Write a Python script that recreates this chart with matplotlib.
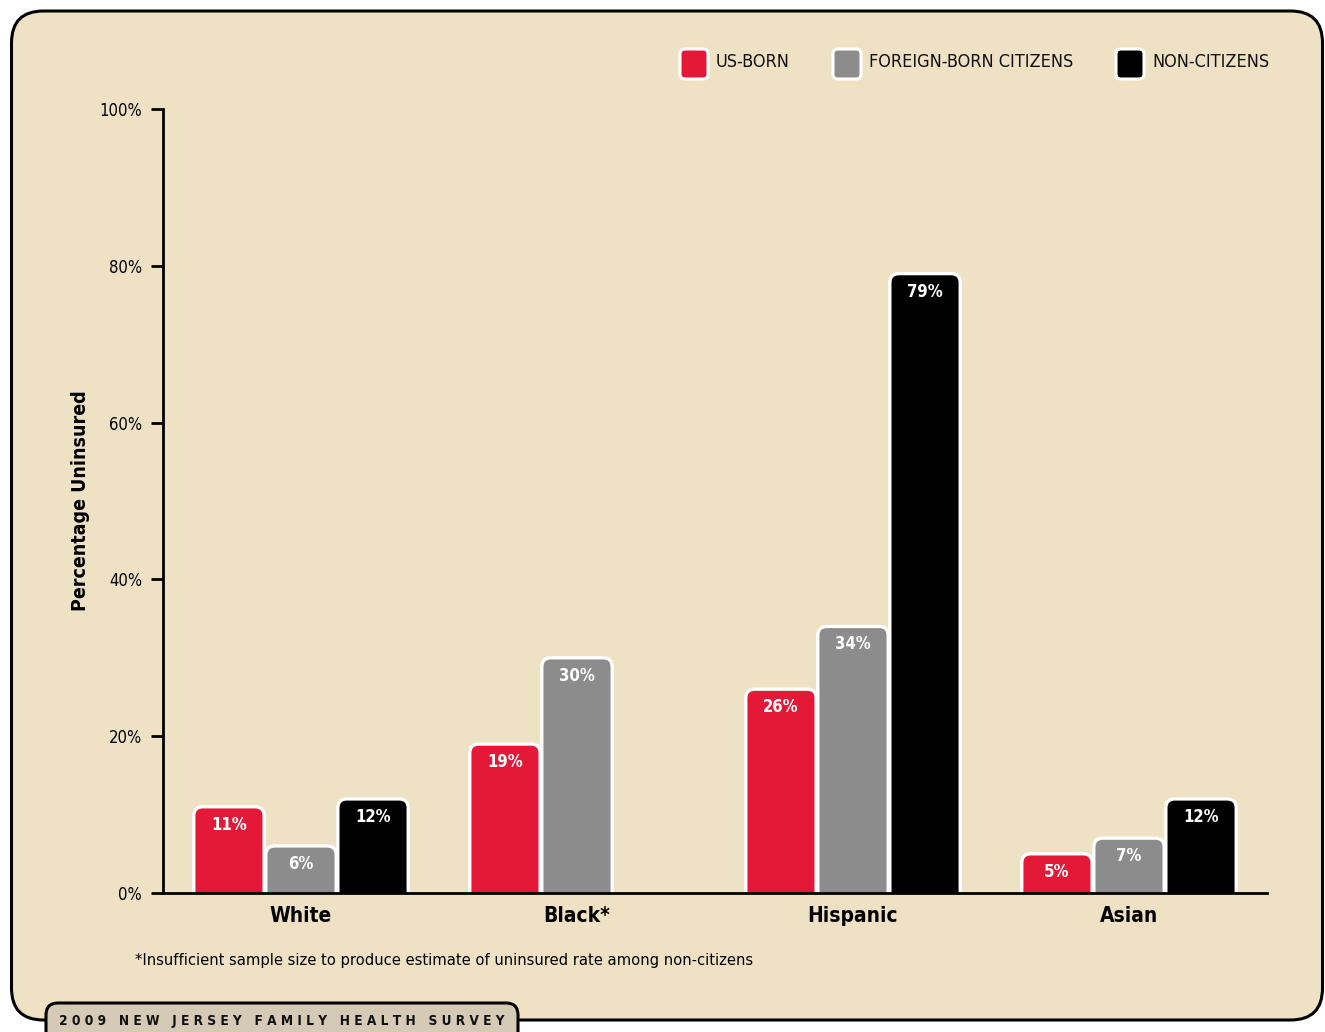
import numpy as np
import matplotlib
matplotlib.use("Agg")
import matplotlib.pyplot as plt
from matplotlib.patches import FancyBboxPatch

plt.rcParams['font.family'] = ['DejaVu Sans']
plt.rcParams['font.stretch'] = 'condensed'

categories = ["White", "Black*", "Hispanic", "Asian"]
series_names = ["US-BORN", "FOREIGN-BORN CITIZENS", "NON-CITIZENS"]
us_born = [11, 19, 26, 5]
foreign_born = [6, 30, 34, 7]
non_citizens = [12, np.nan, 79, 12]
yticks = [0, 20, 40, 60, 80, 100]
ytick_labels = ["0%", "20%", "40%", "60%", "80%", "100%"]
footnote = "*Insufficient sample size to produce estimate of uninsured rate among non-citizens"
banner = "2 0 0 9   N E W   J E R S E Y   F A M I L Y   H E A L T H   S U R V E Y"

colors = ["#E31937", "#8C8C8C", "#000000"]
bg = "#EFE1C4"
tab_bg = "#D4CAB5"

W, H = 1325, 1032
fig = plt.figure(figsize=(W / 100, H / 100), dpi=100)
fig.patch.set_facecolor("white")

bgax = fig.add_axes([0, 0, 1, 1], zorder=0)
bgax.set_xlim(0, W)
bgax.set_ylim(H, 0)
bgax.axis("off")
bgax.add_patch(FancyBboxPatch((11.5, 11), 1311, 1009,
                              boxstyle="round,pad=0,rounding_size=32",
                              facecolor=bg, edgecolor="black", linewidth=2.2))
bgax.add_patch(FancyBboxPatch((46, 1003), 472, 60,
                              boxstyle="round,pad=0,rounding_size=12",
                              facecolor=tab_bg, edgecolor="black", linewidth=2.2))
bgax.text(282, 1021, banner, ha="center", va="center", fontsize=9.8,
          fontweight="bold", color="#111111")

leg_x = [680, 833, 1116]
for lx, name, c in zip(leg_x, series_names, colors):
    bgax.add_patch(FancyBboxPatch((lx, 49), 28, 30,
                                  boxstyle="round,pad=0,rounding_size=5",
                                  facecolor=c, edgecolor="white", linewidth=2.2))
    bgax.text(lx + 36, 62, name, ha="left", va="center", fontsize=13,
              color="#111111")

left, right = 163 / W, 1267 / W
bottom, top = 1 - 893 / H, 1 - 109 / H
ax = fig.add_axes([left, bottom, right - left, top - bottom], zorder=1)
ax.patch.set_alpha(0)
ax.set_xlim(-0.5, 3.5)
ax.set_ylim(0, 100)
x = np.arange(len(categories))
offs = [-0.261, 0.0, 0.261]
bw = 0.255

ax_w_px = (right - left) * W
ax_h_px = (top - bottom) * H
px_per_x = ax_w_px / 4.0
px_per_y = ax_h_px / 100.0
aspect = px_per_x / px_per_y
r_px = 9
for vals, off, c in zip([us_born, foreign_born, non_citizens], offs, colors):
    bars = ax.bar(x + off, vals, width=bw, color=c)
    for b, v in zip(bars, vals):
        b.set_visible(False)
        if np.isnan(v):
            continue
        bx, by, bwid, bh = b.get_x(), b.get_y(), b.get_width(), b.get_height()
        p = FancyBboxPatch((bx, by - 3), bwid, bh + 3,
                           boxstyle=f"round,pad=0,rounding_size={r_px / px_per_x}",
                           mutation_aspect=aspect,
                           facecolor=c, edgecolor="white", linewidth=2.4,
                           zorder=2)
        ax.add_patch(p)
        ax.text(bx + bwid / 2, v - 18 / px_per_y, f"{v:.0f}%", ha="center",
                va="center", color="white", fontsize=12, fontweight="bold",
                zorder=3)

for s in ["top", "right"]:
    ax.spines[s].set_visible(False)
for s in ["left", "bottom"]:
    ax.spines[s].set_linewidth(2)
    ax.spines[s].set_zorder(4)
ax.set_yticks(yticks)
ax.set_yticklabels(ytick_labels, fontsize=12)
ax.tick_params(axis="y", length=9, width=2, pad=6, direction="out")
ax.set_xticks(x)
ax.set_xticklabels(categories, fontsize=15, fontweight="bold")
ax.tick_params(axis="x", length=0, pad=9)
ax.set_ylabel("Percentage Uninsured", fontsize=14, fontweight="bold", labelpad=7)

fig.text(135 / W, 1 - 960 / H, footnote, ha="left", va="center", fontsize=11.8)

fig.savefig("out.png", dpi=100, facecolor="white")
